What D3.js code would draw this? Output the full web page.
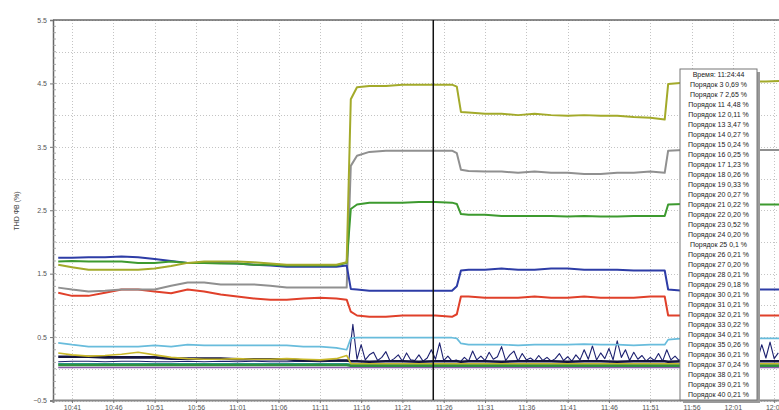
<!DOCTYPE html>
<html>
<head>
<meta charset="utf-8">
<script src="https://cdn.jsdelivr.net/npm/d3@7"></script>
<style>
  body { margin: 0; background: #fff; }
  svg { display: block; font-family: "Liberation Sans", Arial, sans-serif; }
</style>
</head>
<body>
<div class="chart"></div>
<script>
// sample times shared by the main series
const times = ["10:39:20","10:41:00","10:43:00","10:45:00","10:47:00","10:49:00","10:51:00","10:53:00","10:55:00","10:57:00",
  "10:59:00","11:01:00","11:03:00","11:05:00","11:07:00","11:09:00","11:11:00","11:13:00","11:14:15","11:14:45",
  "11:15:30","11:17:00","11:19:00","11:21:00","11:23:00","11:25:00","11:27:00","11:27:35","11:28:05","11:29:00",
  "11:31:00","11:33:00","11:35:00","11:37:00","11:39:00","11:41:00","11:43:00","11:45:00","11:47:00","11:49:00",
  "11:51:00","11:52:45","11:53:10","11:55:00","11:57:00","11:59:00","12:01:00","12:03:00","12:05:00","12:07:00"];

const order11 = [1.64,1.60,1.56,1.56,1.56,1.56,1.58,1.62,1.67,1.69,1.69,1.69,1.68,1.66,1.64,1.64,1.64,1.64,1.68,
  4.25,4.44,4.46,4.46,4.48,4.48,4.48,4.48,4.45,
  4.05,4.04,4.02,4.02,4.00,4.02,4.00,3.99,4.00,3.99,3.99,3.97,3.96,3.93,
  4.49,4.51,4.52,4.52,4.52,4.53,4.53,4.54];
const order13 = [1.28,1.25,1.22,1.23,1.25,1.25,1.25,1.31,1.36,1.36,1.33,1.33,1.33,1.31,1.28,1.28,1.28,1.28,1.28,
  3.20,3.36,3.42,3.44,3.44,3.44,3.44,3.44,3.40,
  3.14,3.12,3.11,3.11,3.09,3.11,3.09,3.09,3.07,3.07,3.09,3.09,3.11,3.09,
  3.44,3.45,3.45,3.44,3.45,3.45,3.45,3.45];
const order7 = [1.69,1.70,1.69,1.69,1.69,1.67,1.67,1.69,1.67,1.67,1.66,1.66,1.64,1.64,1.63,1.63,1.63,1.63,1.67,
  2.52,2.59,2.62,2.62,2.62,2.63,2.63,2.62,2.60,
  2.44,2.43,2.43,2.41,2.41,2.41,2.41,2.40,2.41,2.40,2.40,2.41,2.41,2.41,
  2.59,2.60,2.60,2.60,2.59,2.59,2.59,2.59];
const order17 = [1.75,1.75,1.76,1.76,1.77,1.76,1.73,1.70,1.67,1.67,1.67,1.66,1.64,1.63,1.61,1.61,1.61,1.61,1.63,
  1.26,1.25,1.23,1.23,1.23,1.23,1.23,1.23,1.30,
  1.55,1.56,1.56,1.58,1.56,1.56,1.58,1.58,1.56,1.56,1.56,1.55,1.55,1.55,
  1.25,1.23,1.23,1.23,1.25,1.25,1.25,1.25];
const order3 = [1.20,1.15,1.15,1.20,1.25,1.25,1.22,1.19,1.25,1.22,1.17,1.14,1.11,1.09,1.09,1.11,1.12,1.11,1.09,
  0.90,0.84,0.82,0.82,0.84,0.84,0.84,0.82,0.86,
  1.14,1.14,1.12,1.12,1.12,1.14,1.12,1.12,1.14,1.12,1.12,1.12,1.14,1.14,
  0.84,0.84,0.84,0.82,0.84,0.84,0.84,0.84];
const order23 = [0.41,0.38,0.35,0.35,0.35,0.35,0.37,0.35,0.38,0.37,0.37,0.37,0.37,0.37,0.37,0.35,0.35,0.33,0.30,
  0.48,0.49,0.49,0.49,0.49,0.49,0.49,0.49,0.48,
  0.40,0.38,0.38,0.38,0.37,0.38,0.38,0.38,0.39,0.38,0.38,0.37,0.38,0.38,
  0.46,0.48,0.48,0.48,0.48,0.48,0.48,0.48];
const order19 = [0.19,0.19,0.19,0.18,0.18,0.18,0.18,0.16,0.16,0.16,0.16,0.15,0.15,0.15,0.15,0.13,0.13,0.13,0.13,
  0.12,0.12,0.11,0.12,0.12,0.11,0.12,0.12,0.12,
  0.11,0.12,0.12,0.11,0.12,0.12,0.12,0.11,0.12,0.12,0.11,0.12,0.12,0.12,0.11,
  0.12,0.12,0.11,0.12,0.12,0.12,0.12];
const order25 = [0.25,0.22,0.20,0.21,0.23,0.26,0.22,0.18,0.16,0.15,0.15,0.16,0.15,0.15,0.16,0.15,0.14,0.16,0.21,
  0.08,0.08,0.08,0.08,0.08,0.08,0.08,0.08,0.08,
  0.08,0.08,0.08,0.08,0.08,0.08,0.08,0.08,0.08,0.08,0.08,0.08,0.08,0.08,
  0.08,0.08,0.08,0.08,0.08,0.08,0.08,0.08];
const order21 = [0.06,0.06,0.06,0.06,0.06,0.06,0.06,0.06,0.06,0.06,0.06,0.06,0.06,0.06,0.06,0.06,0.06,0.06,0.06,
  0.05,0.05,0.05,0.05,0.05,0.05,0.05,0.05,0.05,
  0.05,0.05,0.05,0.05,0.05,0.05,0.05,0.05,0.05,0.05,0.05,0.05,0.05,0.05,
  0.05,0.05,0.05,0.05,0.05,0.05,0.05,0.05];
const order29 = [0.08,0.08,0.08,0.08,0.08,0.08,0.08,0.08,0.08,0.08,0.08,0.08,0.08,0.08,0.08,0.08,0.08,0.08,0.08,
  0.07,0.07,0.07,0.07,0.07,0.07,0.07,0.07,0.07,
  0.07,0.07,0.07,0.07,0.07,0.07,0.07,0.07,0.07,0.07,0.07,0.07,0.07,0.07,
  0.07,0.07,0.07,0.07,0.07,0.07,0.07,0.07];
const order31 = [0.02,0.02,0.02,0.02,0.02,0.02,0.02,0.02,0.02,0.02,0.02,0.02,0.02,0.02,0.02,0.02,0.02,0.02,0.02,
  0.02,0.02,0.02,0.02,0.02,0.02,0.02,0.02,0.02,
  0.02,0.02,0.02,0.02,0.02,0.02,0.02,0.02,0.02,0.02,0.02,0.02,0.02,0.02,
  0.02,0.02,0.02,0.02,0.02,0.02,0.02,0.02];

// order 15: quiet before the step, spiky afterwards (30 s samples from 11:14:30)
const order15Early = [0.11,0.12,0.12,0.11,0.12,0.12,0.11,0.11,0.12,0.11,0.12,0.11,0.12,0.11,0.11,0.12,0.11,0.12,0.12];
const spikeStart = "11:14:30";
const order15Spikes = [0.12,0.70,0.15,0.38,0.14,0.22,0.26,0.13,0.18,0.27, 0.12,0.16,0.22,0.12,0.25,0.14,0.13,0.22,0.12,0.17,
  0.30,0.15,0.41,0.13,0.20,0.12,0.14,0.11,0.18,0.12, 0.28,0.14,0.20,0.13,0.26,0.15,0.19,0.35,0.13,0.22,
  0.28,0.12,0.24,0.14,0.17,0.12,0.21,0.13,0.18,0.12, 0.16,0.24,0.13,0.19,0.12,0.22,0.14,0.30,0.15,0.36,
  0.14,0.25,0.16,0.32,0.14,0.44,0.18,0.30,0.13,0.26, 0.15,0.21,0.12,0.18,0.13,0.24,0.12,0.30,0.14,0.20,
  0.13,0.20,0.12,0.25,0.14,0.18,0.12,0.30,0.15,0.20, 0.13,0.24,0.12,0.17,0.28,0.13,0.19,0.12,0.22,0.15,
  0.38,0.17,0.42,0.16,0.25];

const tickLabels = ["10:41","10:46","10:51","10:56","11:01","11:06","11:11","11:16","11:21","11:26",
  "11:31","11:36","11:41","11:46","11:51","11:56","12:01","12:06"];
const yTicks = [-0.5, 0.5, 1.5, 2.5, 3.5, 4.5, 5.5];

const cursorTime = "11:24:44";
const legendOrders = [3,7,11,12,13,14,15,16,17,18,19,20,21,22,23,24,25,26,27,28,29,30,31,32,33,34,35,36,37,38,39,40];
const legendValues = ["0,69","2,65","4,48","0,11","3,47","0,27","0,24","0,25","1,23","0,26","0,33","0,27","0,22","0,20","0,52","0,20",
  "0,1","0,21","0,20","0,21","0,18","0,21","0,21","0,21","0,22","0,21","0,26","0,21","0,24","0,21","0,21","0,21"];

const parse = d3.timeParse("%H:%M:%S");
const parseHM = d3.timeParse("%H:%M");

const draw = () => {
  const W = 779, H = 410;
  const plot = { left: 53, right: 790, top: 20, bottom: 400 };

  const svg = d3.select(".chart").append("svg").attr("width", W).attr("height", H);

  const x = d3.scaleTime()
    .domain([parse("10:38:42"), parse("12:07:55")])
    .range([plot.left, plot.right]);
  const y = d3.scaleLinear().domain([-0.5, 5.5]).range([plot.bottom + 0.5, plot.top]);

  const tickTimes = tickLabels.map(parseHM);

  // grid
  const grid = svg.append("g").attr("stroke", "#c4c4c4").attr("stroke-dasharray", "1,2").attr("stroke-width", 1);
  grid.selectAll(".h").data(d3.range(-0.5, 5.51, 0.5)).join("line")
    .attr("x1", plot.left).attr("x2", plot.right)
    .attr("y1", d => Math.round(y(d)) + 0.5).attr("y2", d => Math.round(y(d)) + 0.5);
  grid.selectAll(".v").data(tickTimes).join("line")
    .attr("x1", d => Math.round(x(d)) + 0.5).attr("x2", d => Math.round(x(d)) + 0.5)
    .attr("y1", plot.top).attr("y2", plot.bottom);

  svg.append("clipPath").attr("id", "clip").append("rect")
    .attr("x", plot.left).attr("y", plot.top)
    .attr("width", plot.right - plot.left).attr("height", plot.bottom - plot.top);

  const line = d3.line().x(d => x(d.t)).y(d => y(d.v));
  const mainT = times.map(parse);
  const zipMain = vals => vals.map((v, i) => ({ t: mainT[i], v: v }));

  const s0 = parse(spikeStart);
  const navy = order15Early.map((v, i) => ({ t: mainT[i], v: v }))
    .concat(order15Spikes.map((v, i) => ({ t: d3.timeSecond.offset(s0, 30 * i), v: v })));

  const series = [
    { data: zipMain(order31), color: "#8a5aa8", w: 1.6 },
    { data: zipMain(order29), color: "#2a9a9a", w: 1.6 },
    { data: navy, color: "#1d2170", w: 1.1 },
    { data: zipMain(order19), color: "#151540", w: 2.6 },
    { data: zipMain(order21), color: "#2f9040", w: 2.6 },
    { data: zipMain(order25), color: "#c9b82a", w: 1.6 },
    { data: zipMain(order23), color: "#68bcdc", w: 1.7 },
    { data: zipMain(order3), color: "#e0402a", w: 2 },
    { data: zipMain(order13), color: "#909090", w: 2 },
    { data: zipMain(order17), color: "#2d3ca6", w: 2 },
    { data: zipMain(order7), color: "#3d9a2f", w: 2 },
    { data: zipMain(order11), color: "#a3aa2a", w: 2 }
  ];

  svg.append("g").attr("clip-path", "url(#clip)")
    .selectAll("path").data(series).join("path")
    .attr("fill", "none")
    .attr("stroke", d => d.color)
    .attr("stroke-width", d => d.w)
    .attr("stroke-linejoin", "round")
    .attr("d", d => line(d.data));

  // frame
  svg.append("line").attr("x1", plot.left).attr("x2", plot.right)
    .attr("y1", plot.top).attr("y2", plot.top).attr("stroke", "#666").attr("stroke-width", 1.5);

  // axes
  const yAxis = svg.append("g").attr("transform", `translate(${plot.left},0)`)
    .call(d3.axisLeft(y).tickValues(yTicks).tickFormat(d3.format(".1f")).tickSize(3).tickPadding(3));
  yAxis.select(".domain").attr("stroke", "#666").attr("stroke-width", 1.5);
  yAxis.selectAll("text").attr("font-size", 7).attr("fill", "#555");
  yAxis.selectAll(".tick line").attr("stroke", "#777");

  // minor ticks inside the left frame
  svg.append("g").selectAll("line").data(d3.range(-0.5, 5.5, 0.1)).join("line")
    .attr("x1", plot.left).attr("x2", plot.left + 3)
    .attr("y1", d => y(d)).attr("y2", d => y(d))
    .attr("stroke", "#999").attr("stroke-width", 0.8);

  const xAxis = svg.append("g").attr("transform", `translate(0,${plot.bottom})`)
    .call(d3.axisBottom(x).tickValues(tickTimes).tickFormat((d, i) => tickLabels[i]).tickSize(3).tickPadding(2));
  xAxis.select(".domain").attr("stroke", "#888").attr("stroke-width", 2);
  xAxis.selectAll("text").attr("font-size", 7).attr("fill", "#555");
  xAxis.selectAll(".tick line").attr("stroke", "#777");

  // y title
  svg.append("text")
    .attr("transform", "translate(19,211) rotate(-90)")
    .attr("text-anchor", "middle")
    .attr("font-size", 7).attr("fill", "#444")
    .text("THD ФВ (%)");

  // cursor
  const cx = x(parse(cursorTime));
  svg.append("line").attr("x1", cx).attr("x2", cx)
    .attr("y1", plot.top).attr("y2", plot.bottom)
    .attr("stroke", "#111").attr("stroke-width", 1.5);

  // cursor legend box
  const box = { x: 680, y: 69, w: 77, rowH: 10 };
  const rows = [`Время: ${cursorTime}`].concat(legendOrders.map((o, i) => `Порядок ${o} ${legendValues[i]} %`));
  const boxH = rows.length * box.rowH + 1;
  svg.append("rect").attr("x", box.x + 3).attr("y", box.y + 3).attr("width", box.w).attr("height", boxH)
    .attr("fill", "#9a9a9a");
  svg.append("rect").attr("x", box.x).attr("y", box.y).attr("width", box.w).attr("height", boxH)
    .attr("fill", "#fff").attr("stroke", "#777").attr("stroke-width", 1);
  svg.append("g").selectAll("text").data(rows).join("text")
    .attr("x", box.x + box.w / 2)
    .attr("y", (d, i) => box.y + box.rowH * i + 8)
    .attr("text-anchor", "middle")
    .attr("font-size", 7).attr("fill", "#222")
    .text(d => d);
};

draw();
</script>
</body>
</html>
